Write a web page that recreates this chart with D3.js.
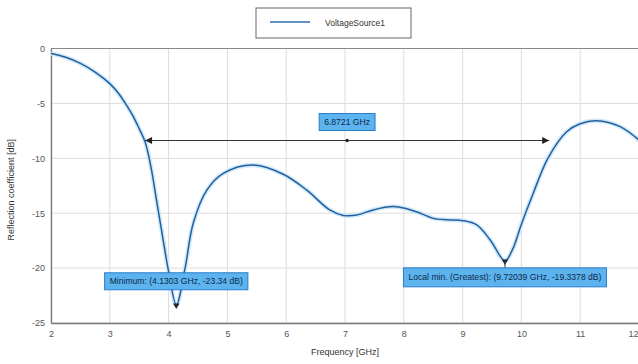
<!DOCTYPE html>
<html>
<head>
<meta charset="utf-8">
<script src="https://cdn.jsdelivr.net/npm/d3@7"></script>
<style>
  html, body { margin: 0; padding: 0; background: #fff; }
  svg { display: block; font-family: "Liberation Sans", Arial, sans-serif; }
</style>
</head>
<body>
<svg id="chart" width="638" height="364"></svg>
<script>
// Reflection coefficient of VoltageSource1 versus frequency
const freqGHz = [2.0, 2.25, 2.5, 2.75, 3.0, 3.15, 3.3, 3.4, 3.5, 3.6, 3.7, 3.8, 3.9, 4.0, 4.1303, 4.28, 4.42, 4.65, 4.93, 5.44, 5.95, 6.35, 6.74, 6.97, 7.2, 7.48, 7.82, 8.02, 8.28, 8.5, 8.75, 9.01, 9.24, 9.47, 9.72039, 9.85, 10.0, 10.2, 10.45, 10.77, 11.0, 11.28, 11.68, 12.0];
const reflDB  = [-0.45, -0.8, -1.35, -2.15, -3.2, -4.1, -5.3, -6.2, -7.3, -8.5, -10.8, -14.0, -17.2, -20.3, -23.34, -20.0, -15.9, -12.9, -11.37, -10.61, -11.45, -12.9, -14.7, -15.2, -15.17, -14.7, -14.4, -14.55, -15.0, -15.47, -15.6, -15.68, -16.07, -17.44, -19.3378, -18.3, -16.0, -13.2, -10.0, -7.58, -6.85, -6.58, -7.12, -8.35];

const xTicks = [2, 3, 4, 5, 6, 7, 8, 9, 10, 11, 12];
const yTicks = [0, -5, -10, -15, -20, -25];

// Bandwidth span at the marker level
const bandEdges = [3.60, 10.4721];
const bandLevel = -8.38;
const bandLabel = "6.8721 GHz";

const minPoint = [4.1303, -23.34];
const minLabel = "Minimum: (4.1303 GHz, -23.34 dB)";
const locPoint = [9.72039, -19.3378];
const locLabel = "Local min. (Greatest): (9.72039 GHz, -19.3378 dB)";

const seriesName = "VoltageSource1";
const xTitle = "Frequency [GHz]";
const yTitle = "Reflection coefficient [dB]";

const svg = d3.select("#chart");
const plot = { left: 51, right: 639, top: 48.5, bottom: 323 };

const x = d3.scaleLinear().domain([2, 12]).range([plot.left, plot.right]);
const y = d3.scaleLinear().domain([-25, 0]).range([plot.bottom, plot.top]);

// grid
const grid = svg.append("g");
grid.selectAll("line.v").data(xTicks).join("line")
  .attr("x1", d => x(d)).attr("x2", d => x(d))
  .attr("y1", plot.top).attr("y2", plot.bottom)
  .attr("stroke", "#dcdcdc").attr("stroke-width", 1);
grid.selectAll("line.h").data(yTicks).join("line")
  .attr("x1", plot.left).attr("x2", plot.right)
  .attr("y1", d => y(d)).attr("y2", d => y(d))
  .attr("stroke", "#dcdcdc").attr("stroke-width", 1);

// axes
const xAxis = d3.axisBottom(x).tickValues(xTicks).tickSize(0).tickPadding(8).tickFormat(d3.format("d"));
const yAxis = d3.axisLeft(y).tickValues(yTicks).tickSize(0).tickPadding(6).tickFormat(d => d === 0 ? "0" : String(d));

const gx = svg.append("g").attr("transform", `translate(0,${plot.bottom})`).call(xAxis);
const gy = svg.append("g").attr("transform", `translate(${plot.left},0)`).call(yAxis);
[gx, gy].forEach(g => {
  g.select(".domain").attr("stroke", "#777").attr("stroke-width", 1.3);
  g.selectAll("text").attr("fill", "#555").attr("font-size", 9).attr("font-family", "Liberation Sans, Arial, sans-serif");
});
// last x tick sits at the window edge: keep it inside
gx.selectAll(".tick").filter(d => d === 12).select("text").attr("text-anchor", "end").attr("dx", -1);

// top frame
svg.append("line").attr("x1", plot.left).attr("x2", plot.right)
  .attr("y1", plot.top).attr("y2", plot.top).attr("stroke", "#888").attr("stroke-width", 1.2);

// axis titles
svg.append("text").attr("x", x(7)).attr("y", 355).attr("text-anchor", "middle")
  .attr("font-size", 9).attr("fill", "#333").text(xTitle);
svg.append("text").attr("transform", `translate(14,${(plot.top + plot.bottom) / 2 + 4}) rotate(-90)`)
  .attr("text-anchor", "middle").attr("font-size", 9).attr("fill", "#333").text(yTitle);

// curve
const pts = freqGHz.map((f, i) => [f, reflDB[i]]);
const line = d3.line().x(d => x(d[0])).y(d => y(d[1])).curve(d3.curveCatmullRom.alpha(0.5));
svg.append("clipPath").attr("id", "plotclip").append("rect")
  .attr("x", plot.left).attr("y", plot.top - 2).attr("width", plot.right - plot.left).attr("height", plot.bottom - plot.top + 2);
const curveG = svg.append("g").attr("clip-path", "url(#plotclip)");
curveG.append("path").datum(pts).attr("d", line)
  .attr("fill", "none").attr("stroke", "#cfe9fb").attr("stroke-width", 4.5).attr("stroke-linejoin", "round");
curveG.append("path").datum(pts).attr("d", line)
  .attr("fill", "none").attr("stroke", "#24609c").attr("stroke-width", 1.5).attr("stroke-linejoin", "round");

// bandwidth arrow
const by = y(bandLevel);
svg.append("line").attr("x1", x(bandEdges[0])).attr("x2", x(bandEdges[1]))
  .attr("y1", by).attr("y2", by).attr("stroke", "#333").attr("stroke-width", 1);
svg.append("path").attr("d", `M${x(bandEdges[0])},${by} l7,-3.5 l0,7 z`).attr("fill", "#222");
svg.append("path").attr("d", `M${x(bandEdges[1])},${by} l-7,-3.5 l0,7 z`).attr("fill", "#222");
const bmid = (x(bandEdges[0]) + x(bandEdges[1])) / 2;
svg.append("circle").attr("cx", bmid).attr("cy", by).attr("r", 1.8).attr("fill", "#222");

// labelled box helper
function labelBox(cx, cy, text, h) {
  const g = svg.append("g");
  const rect = g.append("rect");
  const t = g.append("text").attr("x", cx).attr("y", cy + 3).attr("text-anchor", "middle")
    .attr("font-size", 8.6).attr("fill", "#0d2a4a").text(text);
  const w = t.node().getComputedTextLength() + 10;
  rect.attr("x", cx - w / 2).attr("y", cy - h / 2).attr("width", w).attr("height", h)
    .attr("fill", "#5cb3ee").attr("stroke", "#2a7dcc").attr("stroke-width", 1);
  return g;
}

labelBox(bmid, 122, bandLabel, 17);

// minimum markers
[minPoint, locPoint].forEach(p => {
  svg.append("path").attr("d", d3.symbol(d3.symbolTriangle, 18)())
    .attr("transform", `translate(${x(p[0])},${y(p[1]) + 0.5}) rotate(180)`).attr("fill", "#1c2b3a");
});
svg.append("line").attr("x1", x(locPoint[0])).attr("x2", x(locPoint[0]))
  .attr("y1", y(locPoint[1])).attr("y2", y(locPoint[1]) + 7).attr("stroke", "#333");

labelBox(x(minPoint[0]), y(minPoint[1]) - 23.5, minLabel, 17);
labelBox(x(locPoint[0]), y(locPoint[1]) + 16.5, locLabel, 19);

// legend
const lg = svg.append("g");
lg.append("rect").attr("x", 256).attr("y", 8).attr("width", 155).attr("height", 30)
  .attr("fill", "#fff").attr("stroke", "#666").attr("stroke-width", 1);
lg.append("line").attr("x1", 270).attr("x2", 310).attr("y1", 22).attr("y2", 22)
  .attr("stroke", "#2a6db0").attr("stroke-width", 1.6);
lg.append("text").attr("x", 325).attr("y", 25.5).attr("font-size", 8.5).attr("fill", "#333").text(seriesName);
</script>
</body>
</html>
